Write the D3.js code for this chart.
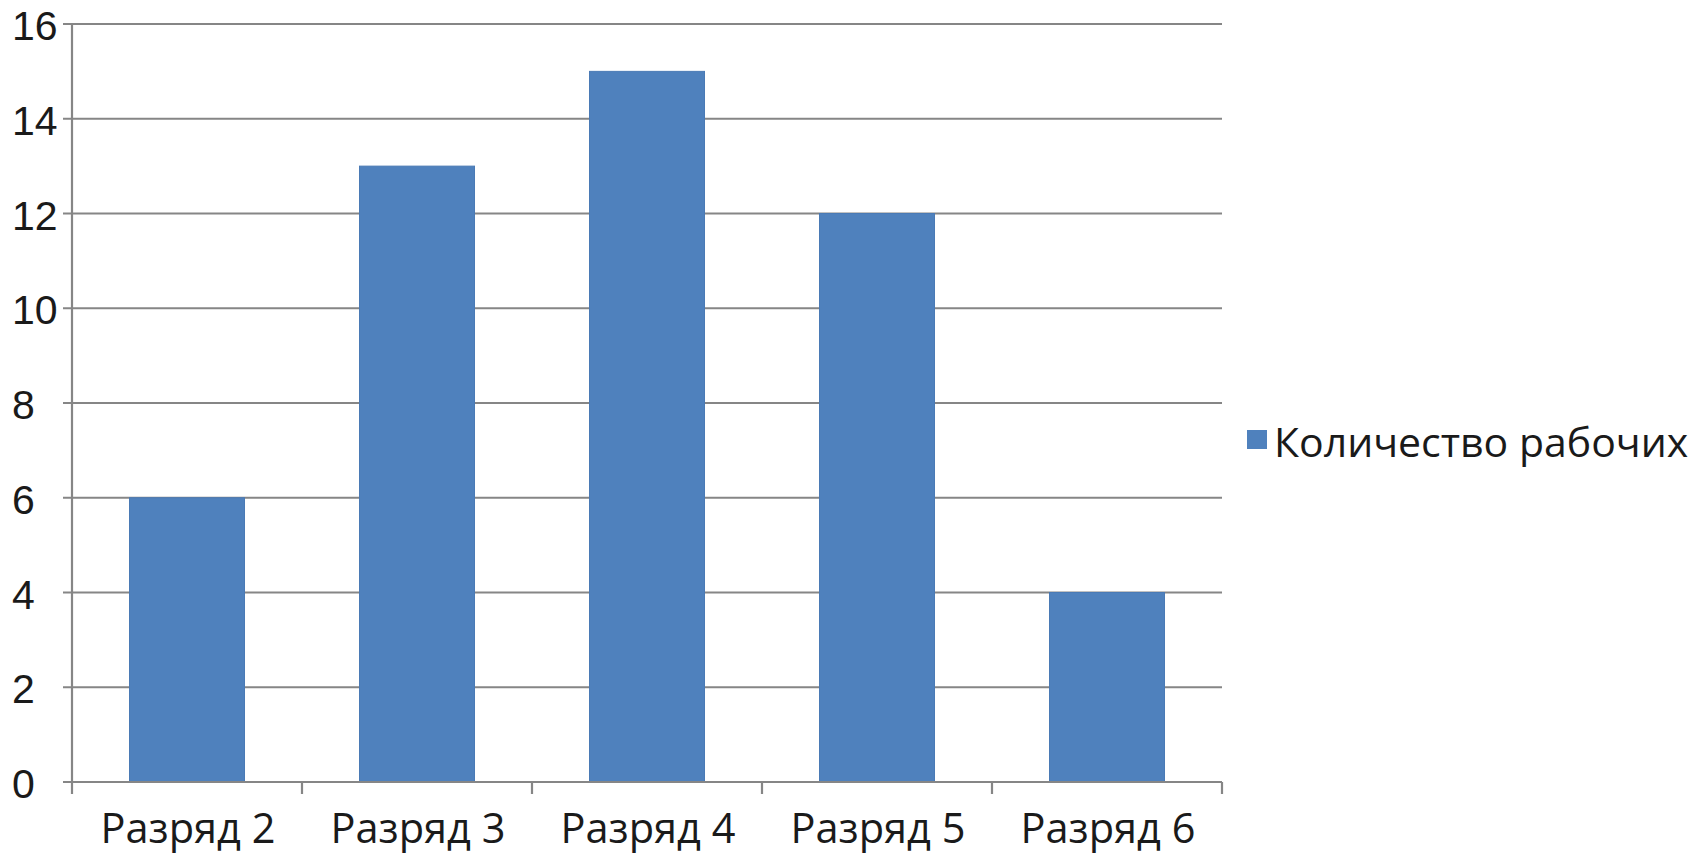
<!DOCTYPE html>
<html>
<head>
<meta charset="utf-8">
<script src="https://cdn.jsdelivr.net/npm/d3@7/dist/d3.min.js"></script>
<style>
  html, body { margin: 0; padding: 0; background: #fff; }
  svg { display: block; }
  text { font-family: "Open Sans", sans-serif; fill: #1a1a1a; }
  text.ylab { font-family: "Liberation Sans", Arial, sans-serif; }
</style>
</head>
<body>
<svg id="chart" width="1704" height="854"></svg>
<script>
const categories = ["Разряд 2", "Разряд 3", "Разряд 4", "Разряд 5", "Разряд 6"];
const values = [6, 13, 15, 12, 4];
const yTicks = [0, 2, 4, 6, 8, 10, 12, 14, 16];
const seriesName = "Количество рабочих";

const svg = d3.select("#chart");
const pLeft = 72, pRight = 1222, pTop = 24, pBottom = 782;
const gridColor = "#868686";
const barColor = "#4F81BD";

const x = d3.scaleBand().domain(categories).range([pLeft, pRight]).paddingInner(0.5).paddingOuter(0.25);
const xb = d3.scaleBand().domain(categories).range([pLeft, pRight]);
const y = d3.scaleLinear().domain([0, 16]).range([pBottom, pTop]);

// gridlines
svg.append("g").selectAll("line").data(yTicks.filter(d => d > 0)).join("line")
  .attr("x1", pLeft - 9).attr("x2", pRight)
  .attr("y1", d => y(d)).attr("y2", d => y(d))
  .attr("stroke", gridColor).attr("stroke-width", 2.2);

// bars
svg.append("g").selectAll("rect").data(values).join("rect")
  .attr("x", (d, i) => x(categories[i]))
  .attr("width", x.bandwidth())
  .attr("y", d => y(d))
  .attr("height", d => y(0) - y(d))
  .attr("fill", barColor)
  .attr("stroke", "#4A7AB5").attr("stroke-width", 1);

// y axis line
svg.append("line").attr("x1", pLeft).attr("x2", pLeft).attr("y1", pTop).attr("y2", pBottom + 12)
  .attr("stroke", gridColor).attr("stroke-width", 2.2);
// baseline
svg.append("line").attr("x1", pLeft - 9).attr("x2", pRight).attr("y1", pBottom).attr("y2", pBottom)
  .attr("stroke", gridColor).attr("stroke-width", 2.2);
// category ticks
const bounds = categories.map(c => xb(c)).concat([pRight]).slice(1);
svg.append("g").selectAll("line").data(bounds).join("line")
  .attr("x1", d => d).attr("x2", d => d).attr("y1", pBottom).attr("y2", pBottom + 12)
  .attr("stroke", gridColor).attr("stroke-width", 2.2);

// y labels (left aligned as in reference)
svg.append("g").selectAll("text").data(yTicks).join("text")
  .attr("class", "ylab")
  .attr("x", 12).attr("y", d => y(d) + 16)
  .attr("font-size", 41)
  .attr("text-anchor", "start")
  .text(d => d);

// x labels
svg.append("g").selectAll("text").data(categories).join("text")
  .attr("x", d => xb(d) + xb.bandwidth() / 2 + 1).attr("y", 843)
  .attr("font-size", 41.5)
  .attr("text-anchor", "middle")
  .text(d => d);

// legend
svg.append("rect").attr("x", 1247).attr("y", 430).attr("width", 20).attr("height", 19).attr("fill", barColor);
svg.append("text").attr("x", 1274).attr("y", 457).attr("font-size", 41).text(seriesName);
</script>
</body>
</html>
